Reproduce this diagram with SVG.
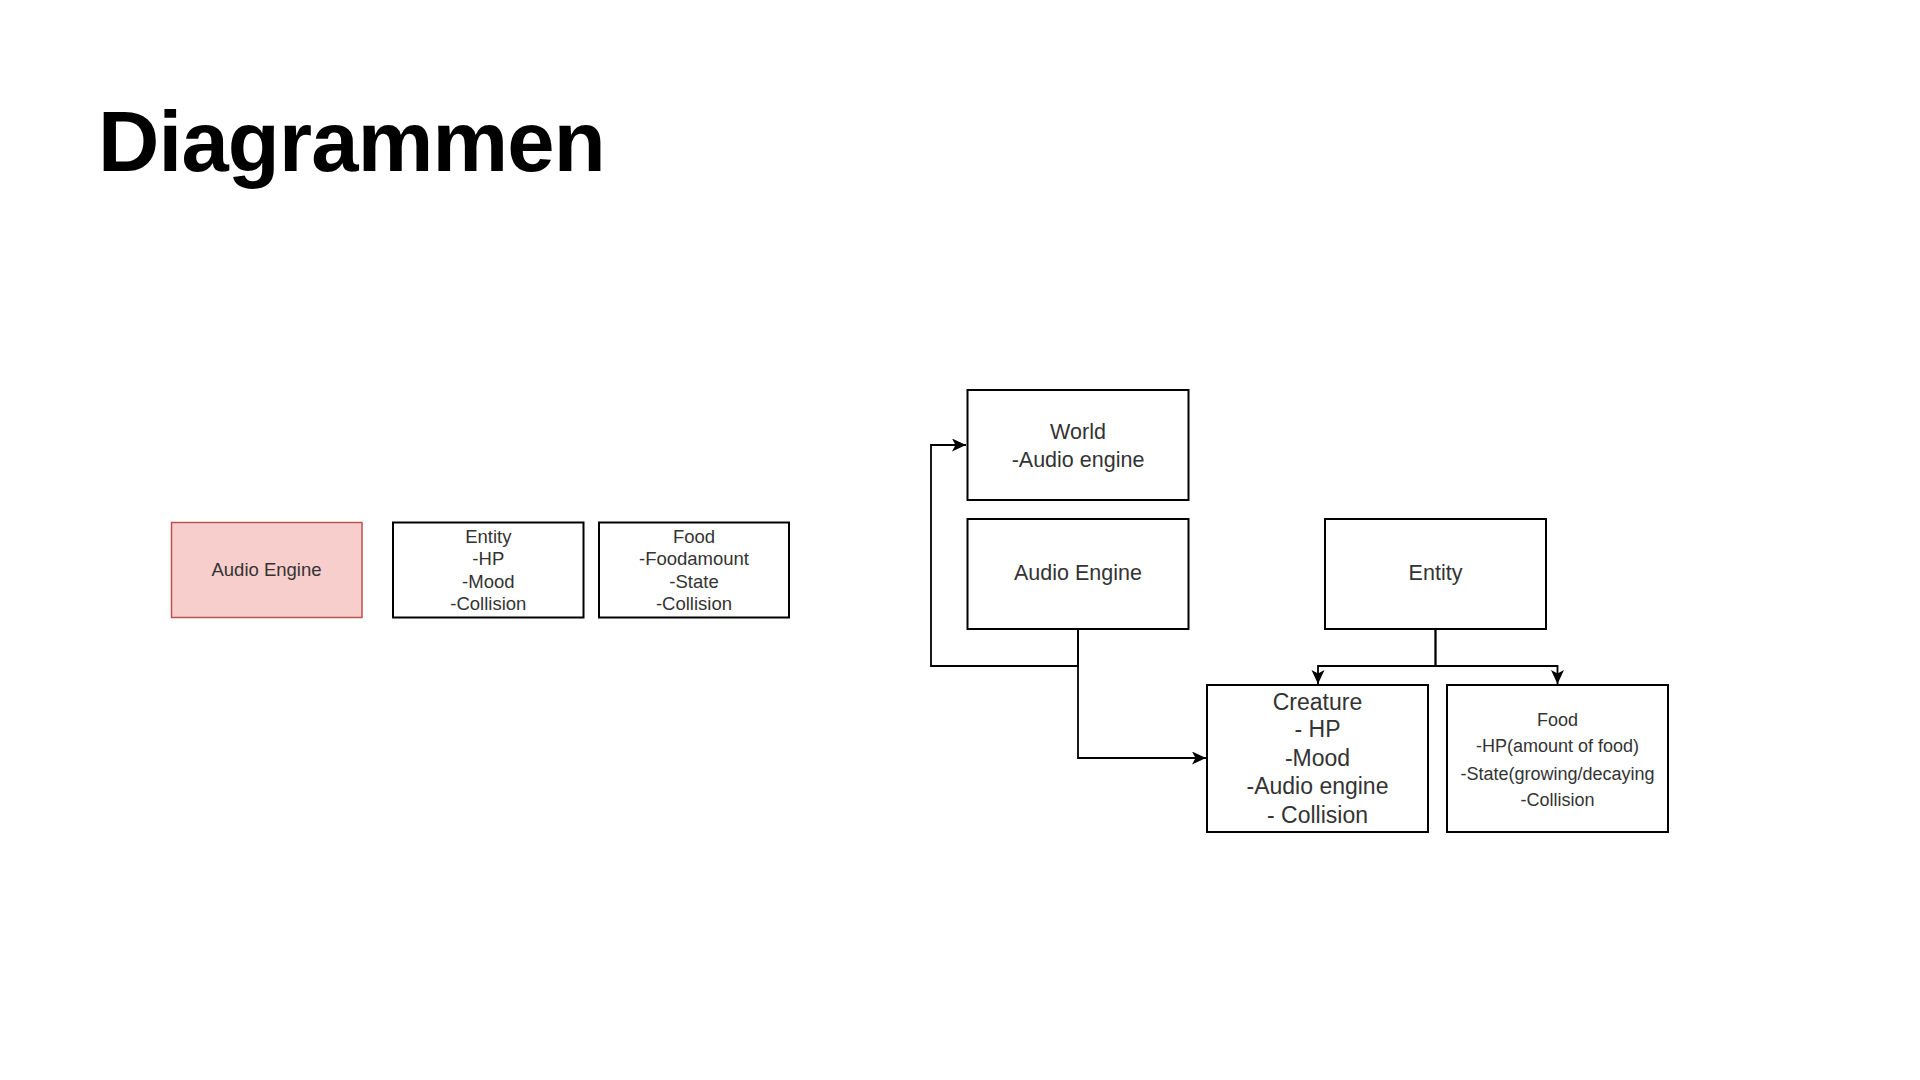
<svg xmlns="http://www.w3.org/2000/svg" width="1920" height="1080" viewBox="0 0 1920 1080">
<style>
.box{fill:#ffffff;stroke:#000000;stroke-width:2}
.pink{fill:#f8cecc;stroke:#b85450;stroke-width:1.5}
.t{font-family:"Liberation Sans",Arial,sans-serif;fill:#333333;text-anchor:middle;dominant-baseline:central}
.s{font-size:18.5px}
.m{font-size:21.5px}
.l{font-size:23px}
.f{font-size:18px}
.edge{fill:none;stroke:#000000;stroke-width:1.8}
</style>
<defs>
<marker id="arr" markerUnits="userSpaceOnUse" markerWidth="16" markerHeight="14" refX="14" refY="6.5" orient="auto">
<path d="M0,0 L14,6.5 L0,13 L3.5,6.5 z" fill="#000000"/>
</marker>
</defs>
<rect width="1920" height="1080" fill="#ffffff"/>
<text x="98" y="171" font-family="Liberation Sans,Arial,sans-serif" font-weight="bold" font-size="85" letter-spacing="-0.8" fill="#000000">Diagrammen</text>

<g id="audio-engine-left">
<rect class="pink" x="171.5" y="522.5" width="190.5" height="95"/>
<text class="t s" x="266.5" y="569.5">Audio Engine</text>
</g>
<g id="entity-left">
<rect class="box" x="393" y="522.5" width="190.5" height="95"/>
<text class="t s" x="488.3" y="536">Entity</text>
<text class="t s" x="488.3" y="558.5">-HP</text>
<text class="t s" x="488.3" y="581">-Mood</text>
<text class="t s" x="488.3" y="603.5">-Collision</text>
</g>
<g id="food-left">
<rect class="box" x="599" y="522.5" width="190" height="95"/>
<text class="t s" x="694" y="536">Food</text>
<text class="t s" x="694" y="558.5">-Foodamount</text>
<text class="t s" x="694" y="581">-State</text>
<text class="t s" x="694" y="603.5">-Collision</text>
</g>

<g id="world">
<rect class="box" x="967.5" y="390" width="221" height="110"/>
<text class="t m" x="1078" y="431.5">World</text>
<text class="t m" x="1078" y="459.5">-Audio engine</text>
</g>
<g id="audio-engine">
<rect class="box" x="967.5" y="519" width="221" height="110"/>
<text class="t m" x="1078" y="573">Audio Engine</text>
</g>
<g id="entity">
<rect class="box" x="1325" y="519" width="221" height="110"/>
<text class="t m" x="1435.5" y="573">Entity</text>
</g>
<g id="creature">
<rect class="box" x="1207" y="685" width="221" height="147"/>
<text class="t l" x="1317.5" y="701.5">Creature</text>
<text class="t l" x="1317.5" y="729">- HP</text>
<text class="t l" x="1317.5" y="757.5">-Mood</text>
<text class="t l" x="1317.5" y="786">-Audio engine</text>
<text class="t l" x="1317.5" y="815">- Collision</text>
</g>
<g id="food">
<rect class="box" x="1447" y="685" width="221" height="147"/>
<text class="t f" x="1557.5" y="720">Food</text>
<text class="t f" x="1557.5" y="746">-HP(amount of food)</text>
<text class="t f" x="1557.5" y="774">-State(growing/decaying</text>
<text class="t f" x="1557.5" y="799.5">-Collision</text>
</g>

<g id="connectors">
<path class="edge" d="M1078,629 L1078,666 L931,666 L931,445 L966,445" marker-end="url(#arr)"/>
<path class="edge" d="M1078,629 L1078,758 L1206,758" marker-end="url(#arr)"/>
<path class="edge" d="M1435.5,629 L1435.5,666 L1318,666 L1318,684" marker-end="url(#arr)"/>
<path class="edge" d="M1435.5,629 L1435.5,666 L1557.5,666 L1557.5,684" marker-end="url(#arr)"/>
</g>
</svg>
